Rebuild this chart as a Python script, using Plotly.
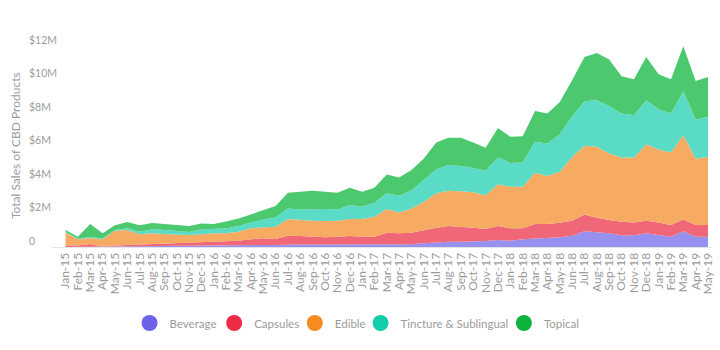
import plotly.graph_objects as go

months = ["Jan-15","Feb-15","Mar-15","Apr-15","May-15","Jun-15","Jul-15","Aug-15","Sep-15","Oct-15","Nov-15","Dec-15",
          "Jan-16","Feb-16","Mar-16","Apr-16","May-16","Jun-16","Jul-16","Aug-16","Sep-16","Oct-16","Nov-16","Dec-16",
          "Jan-17","Feb-17","Mar-17","Apr-17","May-17","Jun-17","Jul-17","Aug-17","Sep-17","Oct-17","Nov-17","Dec-17",
          "Jan-18","Feb-18","Mar-18","Apr-18","May-18","Jun-18","Jul-18","Aug-18","Sep-18","Oct-18","Nov-18","Dec-18",
          "Jan-19","Feb-19","Mar-19","Apr-19","May-19"]

# values in $M
beverage = [0.00,0.01,0.01,0.01,0.01,0.03,0.03,0.04,0.06,0.06,0.06,0.09,
            0.09,0.12,0.12,0.12,0.12,0.12,0.15,0.15,0.15,0.15,0.15,0.15,
            0.18,0.18,0.18,0.18,0.16,0.22,0.28,0.32,0.32,0.32,0.36,0.42,
            0.38,0.46,0.50,0.52,0.58,0.67,0.94,0.88,0.82,0.70,0.70,0.82,
            0.70,0.61,0.94,0.61,0.61]
capsules = [0.09,0.08,0.17,0.02,0.08,0.09,0.12,0.14,0.15,0.18,0.18,0.18,
            0.21,0.20,0.26,0.34,0.40,0.36,0.52,0.51,0.46,0.43,0.46,0.51,
            0.43,0.43,0.67,0.64,0.69,0.79,0.87,0.93,0.89,0.83,0.71,0.83,
            0.74,0.66,0.87,0.85,0.87,0.90,1.01,0.87,0.79,0.81,0.77,0.75,
            0.77,0.70,0.71,0.70,0.70]
edible = [0.78,0.37,0.36,0.43,0.88,0.89,0.61,0.64,0.57,0.49,0.48,0.49,
          0.52,0.50,0.53,0.66,0.66,0.73,1.00,0.95,0.96,0.97,0.96,1.01,
          1.06,1.20,1.43,1.25,1.46,1.69,2.06,2.11,2.13,2.12,2.03,2.51,
          2.48,2.48,3.07,2.87,3.05,3.82,4.10,4.24,3.98,3.85,3.89,4.58,
          4.36,4.34,5.04,3.99,4.08]
tincture = [0.03,0.05,0.04,0.05,0.04,0.11,0.15,0.24,0.23,0.23,0.18,0.30,
            0.24,0.28,0.34,0.33,0.47,0.56,0.64,0.64,0.70,0.72,0.68,0.84,
            0.74,0.83,0.94,0.99,1.09,1.30,1.43,1.54,1.50,1.46,1.46,1.60,
            1.43,1.46,1.85,1.95,2.25,2.43,2.67,2.79,2.83,2.62,2.52,2.63,
            2.41,2.33,2.62,2.32,2.39]
topical = [0.11,0.10,0.79,0.31,0.29,0.37,0.39,0.37,0.36,0.35,0.35,0.35,
           0.31,0.43,0.46,0.50,0.56,0.68,0.93,1.05,1.09,1.03,0.99,1.03,
           0.89,0.90,1.12,1.10,1.20,1.30,1.61,1.63,1.69,1.52,1.37,1.76,
           1.56,1.57,1.85,1.79,1.92,2.15,2.64,2.82,2.79,2.23,2.15,2.58,
           2.09,2.05,2.69,2.31,2.39]

names = ["Beverage", "Capsules", "Edible", "Tincture & Sublingual", "Topical"]
series = [beverage, capsules, edible, tincture, topical]
fills = ["#9691EE", "#F06878", "#F7AA62", "#5ADBC6", "#4CC96F"]
markers = ["#6C63E8", "#EE2B45", "#F78B22", "#13CCAA", "#0DB33D"]

y_ticks = [0, 2, 4, 6, 8, 10, 12]
y_ticktext = ["0", "$2M", "$4M", "$6M", "$8M", "$10M", "$12M"]

xs = list(range(len(months)))
grey = "#9b9b9b"
font_family = "Lato, 'Open Sans', sans-serif"

W, L, R = 720, 25, 5
pw = W - L - R
px_per = 12.41
x_left_px = 52
a = -(65.7 - x_left_px) / px_per
b = a + (W - R - x_left_px) / px_per

scale = 16.72  # px per $M
ymax = 12.5
plot_h = ymax * scale
B = 103
T = 350 - B - plot_h
shift = 6 / scale

legend_keys = ["legend", "legend2", "legend3", "legend4", "legend5"]
legend_text_px = [170, 255, 336, 402, 546]

fig = go.Figure()
for n, s, c in zip(names, series, fills):
    fig.add_trace(go.Scatter(x=xs, y=s, name=n, mode="lines", stackgroup="one",
                             line=dict(width=0, color=c), fillcolor=c,
                             showlegend=False, hoverinfo="skip"))
for n, c, lk in zip(names, markers, legend_keys):
    fig.add_trace(go.Scatter(x=[None], y=[None], name=n, mode="markers",
                             marker=dict(size=16, color=c, symbol="circle"),
                             yaxis="y2", legend=lk, showlegend=True))

legends = {}
for lk, tx in zip(legend_keys, legend_text_px):
    legends[lk] = dict(orientation="h", x=(tx - 40 - L) / pw, xanchor="left",
                       y=-(323 - 247) / plot_h, yanchor="middle",
                       font=dict(size=11.5, color=grey), bgcolor="rgba(0,0,0,0)")

fig.update_layout(
    width=720, height=350,
    margin=dict(l=L, r=R, t=T, b=B),
    paper_bgcolor="white", plot_bgcolor="white",
    font=dict(family=font_family, color=grey, size=12),
    xaxis=dict(domain=[(x_left_px - L) / pw, 1], range=[a, b],
               tickvals=xs, ticktext=months, tickangle=-90,
               tickfont=dict(size=12, color=grey),
               showgrid=False, zeroline=False, showline=True,
               linecolor="#e4e4e4", linewidth=1, ticks=""),
    yaxis=dict(range=[0, ymax], showticklabels=False, showgrid=False,
               zeroline=False, showline=False, ticks=""),
    yaxis2=dict(overlaying="y", anchor="free", position=0, side="left",
                range=[-shift, ymax - shift], tickvals=y_ticks, ticktext=y_ticktext,
                ticklabelposition="inside", ticklabeloverflow="allow",
                tickfont=dict(size=10.5, color=grey),
                showgrid=False, zeroline=False, showline=False, ticks=""),
    annotations=[dict(text="Total Sales of CBD Products", textangle=-90,
                      xref="paper", yref="paper", x=(15 - L) / pw, y=(247 - 146) / plot_h,
                      xanchor="center", yanchor="middle", showarrow=False,
                      font=dict(size=12, color=grey))],
    **legends,
)

fig.write_html("out.html")
